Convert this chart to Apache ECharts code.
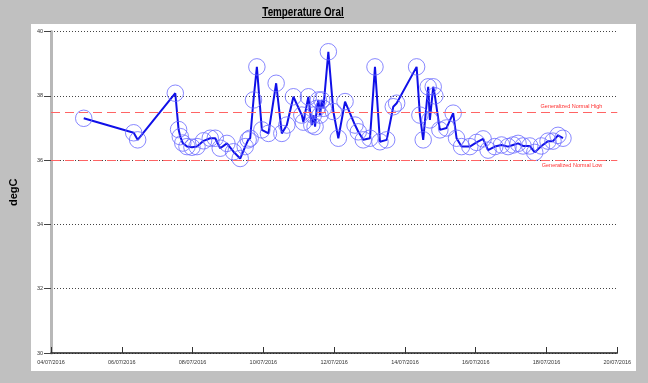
<!DOCTYPE html>
<html>
<head>
<meta charset="utf-8">
<script src="https://cdn.jsdelivr.net/npm/echarts@6/dist/echarts.min.js"></script>
<style>
html,body{margin:0;padding:0;background:#c0c0c0;}
#chart{width:648px;height:383px;}
</style>
</head>
<body>
<div id="chart"></div>
<script>
// Reading times (July 2016, "MM-DD HH:mm") and oral temperatures (degC)
const times = [
"07-04 22:12","07-06 08:04","07-06 10:46","07-07 12:17","07-07 14:31","07-07 15:40","07-07 17:22","07-07 20:13",
"07-07 23:35","07-08 02:59","07-08 07:27","07-08 11:59","07-08 15:22","07-08 18:45","07-08 23:17","07-09 03:45",
"07-09 08:17","07-09 11:41","07-09 13:42","07-09 15:04","07-09 17:18","07-09 19:36","07-09 22:59","07-10 03:27",
"07-10 08:40","07-10 12:31","07-10 15:55","07-10 20:23","07-11 02:04","07-11 03:09","07-11 06:32","07-11 08:50",
"07-11 09:55","07-11 11:04","07-11 12:13","07-11 13:18","07-11 14:27","07-11 15:36","07-11 16:41","07-11 20:04",
"07-11 23:28","07-12 02:50","07-12 07:23","07-12 14:09","07-12 16:23","07-12 19:46","07-13 00:18","07-13 03:41",
"07-13 07:04","07-13 11:37","07-13 16:05","07-13 18:23","07-14 07:55","07-14 10:09","07-14 12:23","07-14 15:46",
"07-14 16:55","07-14 19:10","07-14 20:19","07-14 23:41","07-15 04:14","07-15 08:42","07-15 11:00","07-15 14:23",
"07-15 20:00","07-16 00:32","07-16 05:01","07-16 08:23","07-16 12:56","07-16 17:28","07-16 21:56","07-17 01:19",
"07-17 04:42","07-17 08:05","07-17 12:37","07-17 16:01","07-17 20:32","07-18 01:01","07-18 04:24","07-18 07:47",
"07-18 11:10"
];
const values = [
37.3,36.85,36.63,38.08,36.95,36.73,36.53,36.42,
36.4,36.42,36.6,36.68,36.68,36.37,36.52,36.26,
36.05,36.42,36.63,36.68,37.87,38.9,36.94,36.83,
38.39,36.83,37.09,37.97,37.4,37.18,37.97,37.09,
37.4,37.04,37.61,37.87,37.4,37.87,37.61,39.37,
37.51,36.68,37.82,37.09,36.88,36.63,36.68,38.9,
36.57,36.63,37.66,37.77,38.9,37.4,36.63,38.28,
37.25,38.28,38.0,36.94,37.0,37.46,36.68,36.42,
36.42,36.55,36.66,36.31,36.42,36.47,36.42,36.47,
36.52,36.44,36.44,36.24,36.44,36.59,36.59,36.77,
36.68
];
const yTicks = [30, 32, 34, 36, 38, 40];
const normalHigh = 37.5;
const normalLow = 36;
const startDay = 4; // 04/07/2016

function toHours(t){
  const m = t.match(/(\d+)-(\d+) (\d+):(\d+)/);
  return (parseInt(m[2],10)-startDay)*24 + parseInt(m[3],10) + parseInt(m[4],10)/60;
}
const seriesData = times.map((t,i)=>[toHours(t), values[i]]);

const chart = echarts.init(document.getElementById('chart'), null, {renderer:'canvas'});
const small = {fontSize:5.5, color:'#333', fontFamily:'Liberation Sans, Arial'};
chart.setOption({
  animation:false,
  backgroundColor:'#c0c0c0',
  graphic:[
    {type:'rect', z:-10, silent:true, shape:{x:31,y:24,width:605,height:347}, style:{fill:'#ffffff'}},
    {type:'text', x:303, y:12.5, scaleX:0.82, originX:0, originY:0,
     style:{text:'Temperature Oral', font:"bold 12px 'Liberation Sans', Arial", fill:'#000', textAlign:'center', textVerticalAlign:'middle'},
     position:[303,12.5]},
    {type:'line', shape:{x1:262,y1:17.5,x2:344,y2:17.5}, style:{stroke:'#000',lineWidth:1}}
  ],
  grid:{left:50.5, right:30.7, top:31.5, bottom:30},
  xAxis:{
    type:'value', min:0, max:384, interval:48,
    axisLine:{lineStyle:{color:'#222', width:1.5}},
    axisTick:{inside:true, length:6, lineStyle:{color:'#333'}},
    axisLabel:Object.assign({margin:6, showMaxLabel:true, showMinLabel:true, formatter:function(v){
      const d = startDay + Math.round(v/24);
      return (d<10?'0':'')+d+'/07/2016';
    }}, small),
    splitLine:{show:false}
  },
  yAxis:{
    type:'value', min:yTicks[0], max:yTicks[yTicks.length-1], interval:2,
    name:'degC', nameLocation:'middle', nameRotate:90, nameGap:32,
    nameTextStyle:{fontSize:11, fontWeight:'bold', color:'#000', fontFamily:'Liberation Sans, Arial'},
    axisLine:{show:true, lineStyle:{color:'#b8b8b8', width:3}},
    axisTick:{show:true, length:7, lineStyle:{color:'#444'}},
    axisLabel:Object.assign({margin:8}, small),
    splitLine:{show:true, lineStyle:{type:[1,2], color:'#444', width:1}}
  },
  series:[{
    type:'line',
    data:seriesData,
    showAllSymbol:true,
    symbol:'circle',
    symbolSize:16.5,
    itemStyle:{color:'rgba(0,0,0,0)', borderColor:'#6a6aff', borderWidth:0.8},
    lineStyle:{color:'#1010e8', width:2},
    emphasis:{disabled:true},
    markLine:{
      silent:true, symbol:['none','none'],
      lineStyle:{color:'#ff6464', type:[9,5], width:1},
      data:[
        {yAxis:normalHigh, label:{formatter:'Generalized Normal High', position:'insideEndTop', distance:[15,2], fontSize:5.5, color:'#ff3030', fontFamily:'Liberation Sans, Arial'}},
        {yAxis:normalLow, label:{formatter:'Generalized Normal Low', position:'insideEndBottom', distance:[15,2], fontSize:5.5, color:'#ff3030', fontFamily:'Liberation Sans, Arial'}}
      ]
    }
  }]
});
</script>
</body>
</html>
